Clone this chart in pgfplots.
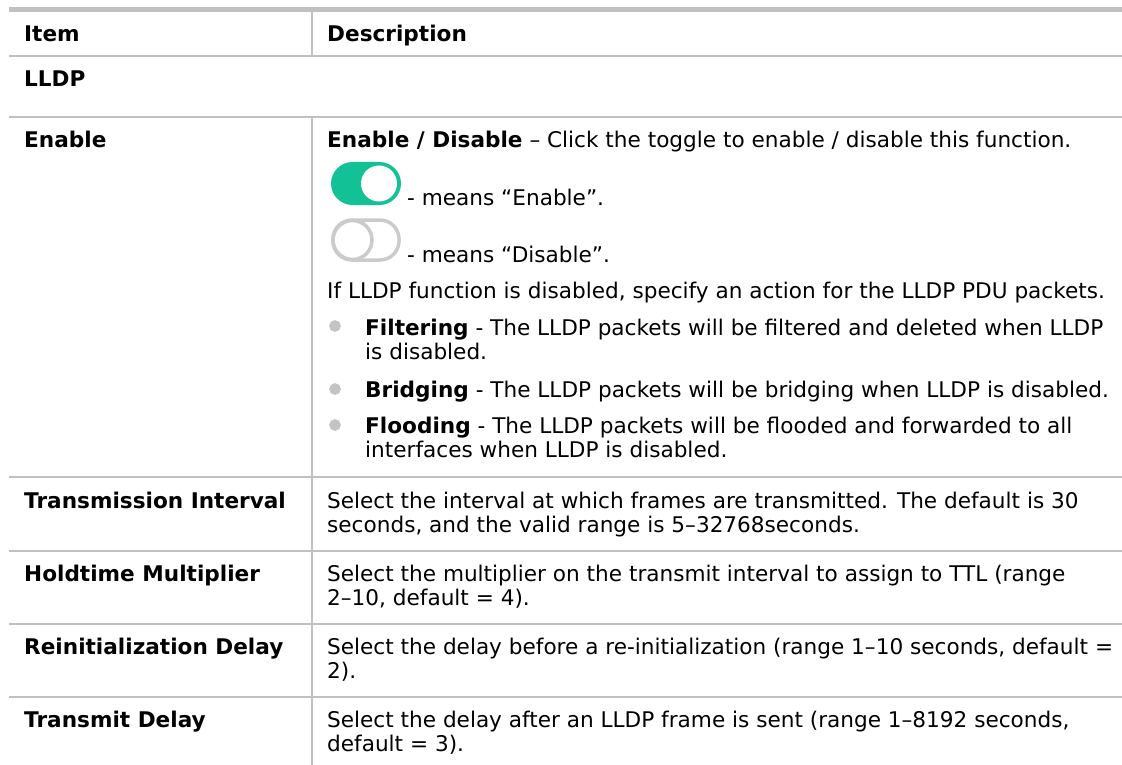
\documentclass[border=0pt]{standalone}
\usepackage{fontspec}
\setmainfont{DejaVu Sans}
\usepackage{pgfplots}
\pgfplotsset{compat=1.18}
\definecolor{rule}{HTML}{C0C0C0}
\definecolor{tgreen}{HTML}{12C195}
\definecolor{tgray}{HTML}{CBCBCB}
\definecolor{bul}{HTML}{C4C4C4}
\begin{document}
\begin{tikzpicture}
\path[use as bounding box] (0,0) rectangle (1122pt,765pt);
\begin{axis}[at={(0,0)}, anchor=south west, width=1122pt, height=765pt, scale only axis,
  xmin=0, xmax=1122, ymin=0, ymax=765, y dir=reverse, hide axis, clip=false]
% table rules
\addplot[rule, line width=5pt] coordinates {(9,9.5) (1122,9.5)};
\addplot[rule, line width=1.8pt] coordinates {(9,56) (1122,56)};
\addplot[rule, line width=1.8pt] coordinates {(9,117) (1122,117)};
\addplot[rule, line width=1.8pt] coordinates {(9,477) (1122,477)};
\addplot[rule, line width=1.8pt] coordinates {(9,551) (1122,551)};
\addplot[rule, line width=1.8pt] coordinates {(9,624) (1122,624)};
\addplot[rule, line width=1.8pt] coordinates {(9,697) (1122,697)};
\addplot[rule, line width=1.8pt] coordinates {(312,12) (312,56)};
\addplot[rule, line width=1.8pt] coordinates {(312,117) (312,765)};
% bullets
\addplot[only marks, mark=*, mark size=5.6pt, color=bul] coordinates {(335,326) (335,389) (335,425)};
% toggles
\fill[tgreen] (axis cs:331,162) [rounded corners=21.5pt] rectangle (axis cs:401,205);
\fill[white] (axis cs:379,183.5) circle[radius=18pt];
\draw[tgray, line width=3.5pt, rounded corners=19pt] (axis cs:333,220) rectangle (axis cs:399,260);
\draw[tgray, line width=3.5pt] (axis cs:352.5,240) circle[radius=19.5pt];
% text
\begin{scope}[every node/.style={anchor=base west, inner sep=0pt, font=\fontsize{21.6pt}{25pt}\selectfont, text=black}]
\node at (axis cs:24,42) {\bfseries Item};
\node at (axis cs:327,42) {\bfseries Description};
\node at (axis cs:24,87) {\bfseries LLDP};
\node at (axis cs:24,148) {\bfseries Enable};
\node at (axis cs:327,148) {\textbf{Enable / Disable} – Click the toggle to enable / disable this function.};
\node at (axis cs:407,205) {- means “Enable”.};
\node at (axis cs:407,262) {- means “Disable”.};
\node at (axis cs:327,298) {If LLDP function is disabled, specify an action for the LLDP PDU packets.};
\node at (axis cs:365,335) {\textbf{Filtering} - The LLDP packets will be filtered and deleted when LLDP};
\node at (axis cs:365,359) {is disabled.};
\node at (axis cs:365,397) {\textbf{Bridging} - The LLDP packets will be bridging when LLDP is disabled.};
\node at (axis cs:365,433) {\textbf{Flooding} - The LLDP packets will be flooded and forwarded to all};
\node at (axis cs:365,457) {interfaces when LLDP is disabled.};
\node at (axis cs:24,508) {\bfseries Transmission Interval};
\node at (axis cs:327,508) {Select the interval at which frames are transmitted. The default is 30};
\node at (axis cs:327,532) {seconds, and the valid range is 5–32768seconds.};
\node at (axis cs:24,581) {\bfseries Holdtime Multiplier};
\node at (axis cs:327,581) {Select the multiplier on the transmit interval to assign to TTL (range};
\node at (axis cs:327,605) {2–10, default = 4).};
\node at (axis cs:24,654) {\bfseries Reinitialization Delay};
\node at (axis cs:327,654) {Select the delay before a re-initialization (range 1–10 seconds, default =};
\node at (axis cs:327,678) {2).};
\node at (axis cs:24,727) {\bfseries Transmit Delay};
\node at (axis cs:327,727) {Select the delay after an LLDP frame is sent (range 1–8192 seconds,};
\node at (axis cs:327,751) {default = 3).};
\end{scope}
\end{axis}
\end{tikzpicture}
\end{document}
